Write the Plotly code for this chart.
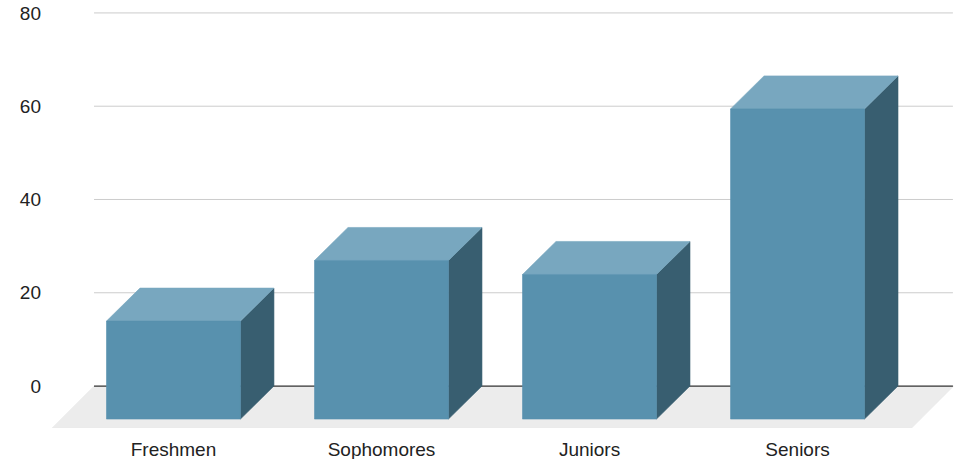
import plotly.graph_objects as go

# ---- data ----
categories = ["Freshmen", "Sophomores", "Juniors", "Seniors"]
values = [21, 34, 31, 66.5]
y_ticks = [0, 20, 40, 60, 80]

# ---- styling / geometry (data units) ----
BAR_HALF = 0.322      # half width of the front face
DX, DY = 0.161, 7.08  # 3D depth offset of the bars
FDX, FDY = 0.202, 9.0 # depth of the floor
X_RANGE = [-0.584, 3.757]
Y_RANGE = [-FDY, 80.2]
FLOOR_RIGHT = 3.549

C_FRONT = "#5891ae"
C_TOP = "#78a7bf"
C_SIDE = "#385e70"
C_FLOOR = "#ececec"
C_GRID = "#cccccc"
C_ZERO = "#333333"
FONT = "Arial, Liberation Sans, sans-serif"

fig = go.Figure()

def poly(xs, ys, color):
    fig.add_trace(go.Scatter(
        x=list(xs) + [xs[0]], y=list(ys) + [ys[0]],
        mode="lines", fill="toself", fillcolor=color,
        line=dict(color=color, width=0.6),
        hoverinfo="skip", showlegend=False))

# floor
x0 = X_RANGE[0]
poly([x0, FLOOR_RIGHT, FLOOR_RIGHT + FDX, x0 + FDX],
     [-FDY, -FDY, 0, 0], C_FLOOR)

# gridlines
gx0, gx1 = x0 + FDX, X_RANGE[1] - 0.01
for t in y_ticks:
    fig.add_trace(go.Scatter(
        x=[gx0, gx1], y=[t, t], mode="lines",
        line=dict(color=C_ZERO if t == 0 else C_GRID, width=1.2 if t == 0 else 1),
        hoverinfo="skip", showlegend=False))

# 3D bars
for i, v in enumerate(values):
    l, r = i - BAR_HALF, i + BAR_HALF
    # side face
    poly([r, r + DX, r + DX, r], [-DY, 0, v, v - DY], C_SIDE)
    # top face
    poly([l, r, r + DX, l + DX], [v - DY, v - DY, v, v], C_TOP)
    # front face
    poly([l, r, r, l], [-DY, -DY, v - DY, v - DY], C_FRONT)

fig.update_layout(
    width=955, height=459,
    margin=dict(l=52, r=0, t=12, b=31),
    paper_bgcolor="white", plot_bgcolor="white",
    showlegend=False,
    font=dict(family=FONT, size=19, color="#222222"),
    xaxis=dict(range=X_RANGE, showgrid=False, zeroline=False, showline=False,
               tickmode="array", tickvals=list(range(len(categories))),
               ticktext=categories, ticks="", ticklabelstandoff=8,
               fixedrange=True),
    yaxis=dict(range=Y_RANGE, showgrid=False, zeroline=False, showline=False,
               tickmode="array", tickvals=y_ticks,
               ticktext=[str(t) for t in y_ticks], ticks="",
               ticklabelstandoff=10, fixedrange=True),
)

fig.write_html("out.html", config={"displayModeBar": False},
               post_script="document.body.style.margin='0';document.body.style.overflow='hidden';")
